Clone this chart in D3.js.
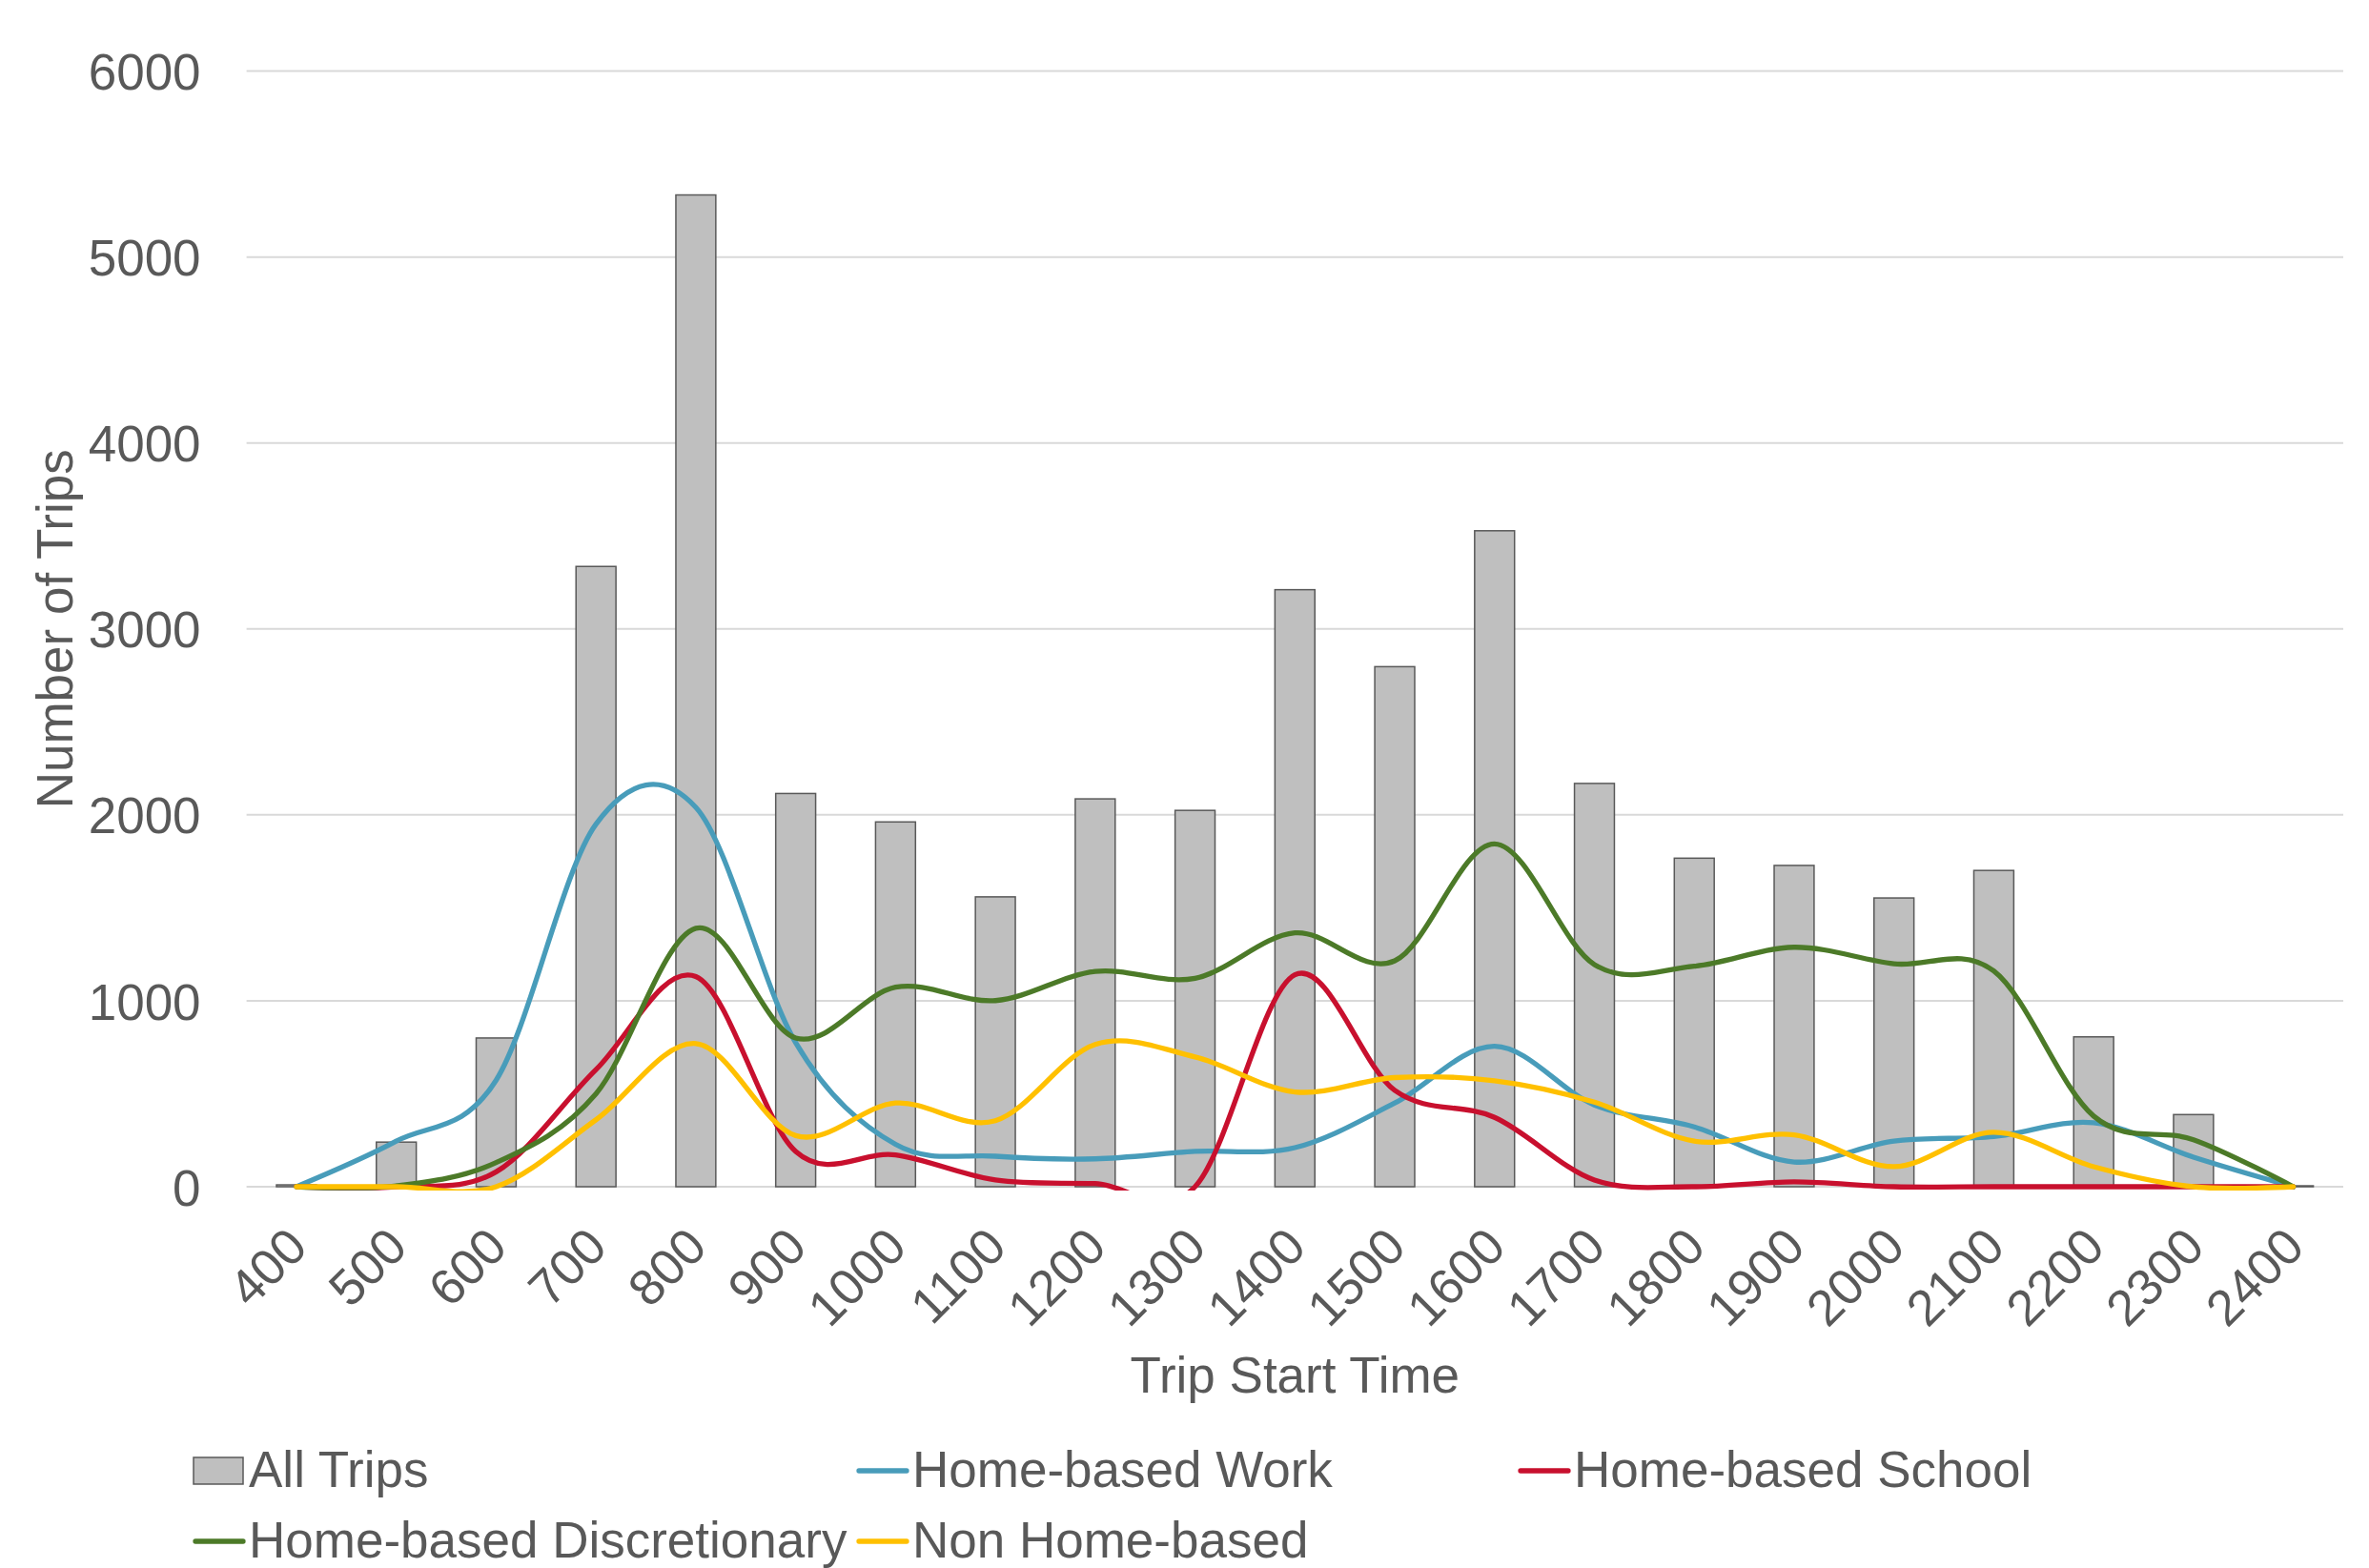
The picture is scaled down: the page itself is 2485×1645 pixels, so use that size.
<!DOCTYPE html>
<html><head><meta charset="utf-8">
<script src="https://cdn.jsdelivr.net/npm/d3@7"></script>
<style>
body{margin:0;background:#fff}
text{font-family:"Liberation Sans",Arial,sans-serif;fill:#595959}
</style>
</head><body>
<svg id="chart" width="2485" height="1645"></svg>
<script>
// ---- data ----
const categories = ["400","500","600","700","800","900","1000","1100","1200","1300","1400",
  "1500","1600","1700","1800","1900","2000","2100","2200","2300","2400"];
const allTrips      = [10, 240, 800, 3336, 5334, 2115, 1962, 1559, 2086, 2024, 3211, 2797, 3528, 2169, 1767, 1728, 1553, 1701, 806, 388, 5];
const homeWork      = [0, 245, 573, 1950, 2040, 775, 228, 164, 150, 190, 210, 450, 755, 440, 322, 133, 245, 270, 344, 159, 0];
const homeSchool    = [0, 0, 80, 630, 1130, 190, 171, 36, 17, 0, 1140, 518, 373, 36, 0, 26, 0, 0, 0, 0, 0];
const homeDiscr     = [0, 5, 130, 500, 1390, 800, 1073, 1001, 1158, 1121, 1365, 1215, 1844, 1195, 1186, 1288, 1199, 1160, 380, 253, 0];
const nonHome       = [0, 0, 0, 360, 770, 275, 450, 355, 765, 698, 510, 587, 570, 455, 245, 279, 108, 293, 108, 0, 0];
const yTicks = [0, 1000, 2000, 3000, 4000, 5000, 6000];
const seriesNames = ["All Trips", "Home-based Work", "Home-based School", "Home-based Discretionary", "Non Home-based"];
const xTitle = "Trip Start Time";
const yTitle = "Number of Trips";

// ---- layout ----
const plot = {left: 258.6, right: 2458, top: 74.6, bottom: 1245};
const FS = 53;
const LW = 5.3;
const colors = {bar: "#BFBFBF", barStroke: "#595959", work: "#489CBA", school: "#C8102E", discr: "#4C7A28", non: "#FFC000"};

const svg = d3.select("#chart");
svg.append("rect").attr("width", 2485).attr("height", 1645).attr("fill", "#fff");

const x = d3.scaleBand().domain(categories).range([plot.left, plot.right]).paddingInner(0.6).paddingOuter(0.3);
const y = d3.scaleLinear().domain([0, 6000]).range([plot.bottom, plot.top]);
const cx = c => x(c) + x.bandwidth() / 2;

// gridlines
svg.append("g").selectAll("line").data(yTicks).join("line")
  .attr("x1", plot.left).attr("x2", plot.right)
  .attr("y1", d => y(d)).attr("y2", d => y(d))
  .attr("stroke", "#D9D9D9").attr("stroke-width", 2);

// y axis labels
const yAxis = svg.append("g").attr("transform", `translate(${plot.left},0)`)
  .call(d3.axisLeft(y).tickValues(yTicks).tickSize(0).tickPadding(48).tickFormat(d3.format("d")));
yAxis.select(".domain").remove();
yAxis.selectAll("text").attr("font-size", FS).attr("font-family", null).attr("fill", "#595959").attr("dy", "0.36em");

// bars
svg.append("g").selectAll("rect").data(allTrips).join("rect")
  .attr("x", (d, i) => x(categories[i]))
  .attr("width", x.bandwidth())
  .attr("y", d => y(d))
  .attr("height", d => y(0) - y(d))
  .attr("fill", colors.bar).attr("stroke", colors.barStroke).attr("stroke-width", 1.5);

// x axis labels
const xAxis = svg.append("g").attr("transform", `translate(0,${plot.bottom})`)
  .call(d3.axisBottom(x).tickSize(0));
xAxis.select(".domain").remove();
xAxis.selectAll("text")
  .attr("font-size", FS).attr("font-family", null).attr("fill", "#595959")
  .attr("text-anchor", "end").attr("x", 0).attr("y", 0).attr("dy", 0)
  .attr("transform", "translate(14,66) rotate(-45)");

// lines
svg.append("defs").append("clipPath").attr("id", "clip")
  .append("rect").attr("x", plot.left).attr("y", plot.top - 20)
  .attr("width", plot.right - plot.left).attr("height", plot.bottom - plot.top + 24);

const line = d3.line().x((d, i) => cx(categories[i])).y(d => y(d)).curve(d3.curveCatmullRom.alpha(0));
const lineSeries = [
  {name: seriesNames[1], values: homeWork, color: colors.work},
  {name: seriesNames[2], values: homeSchool, color: colors.school},
  {name: seriesNames[3], values: homeDiscr, color: colors.discr},
  {name: seriesNames[4], values: nonHome, color: colors.non}
];
const lg = svg.append("g").attr("clip-path", "url(#clip)");
lineSeries.forEach(s => {
  lg.append("path").attr("d", line(s.values)).attr("fill", "none")
    .attr("stroke", s.color).attr("stroke-width", LW)
    .attr("stroke-linejoin", "round").attr("stroke-linecap", "round");
});

// axis titles
svg.append("text").attr("x", (plot.left + plot.right) / 2).attr("y", 1461)
  .attr("text-anchor", "middle").attr("font-size", FS).text(xTitle);
svg.append("text").attr("transform", `translate(76,${(plot.top + plot.bottom) / 2}) rotate(-90)`)
  .attr("text-anchor", "middle").attr("font-size", FS).text(yTitle);

// legend
const colX = [203, 899, 1593];
const rowY = [1543, 1617];
const legendItems = [
  {name: seriesNames[0], type: "bar", col: 0, row: 0},
  {name: seriesNames[1], type: "line", color: colors.work, col: 1, row: 0},
  {name: seriesNames[2], type: "line", color: colors.school, col: 2, row: 0},
  {name: seriesNames[3], type: "line", color: colors.discr, col: 0, row: 1},
  {name: seriesNames[4], type: "line", color: colors.non, col: 1, row: 1}
];
const leg = svg.append("g");
legendItems.forEach(it => {
  const lx = colX[it.col], ly = rowY[it.row];
  if (it.type === "bar") {
    leg.append("rect").attr("x", lx).attr("y", ly - 14).attr("width", 52).attr("height", 28)
      .attr("fill", colors.bar).attr("stroke", colors.barStroke).attr("stroke-width", 1.5);
  } else {
    leg.append("line").attr("x1", lx + 2).attr("x2", lx + 52).attr("y1", ly).attr("y2", ly)
      .attr("stroke", it.color).attr("stroke-width", LW).attr("stroke-linecap", "round");
  }
  leg.append("text").attr("x", lx + 58).attr("y", ly + 17).attr("font-size", FS).text(it.name);
});
</script>
</body></html>
